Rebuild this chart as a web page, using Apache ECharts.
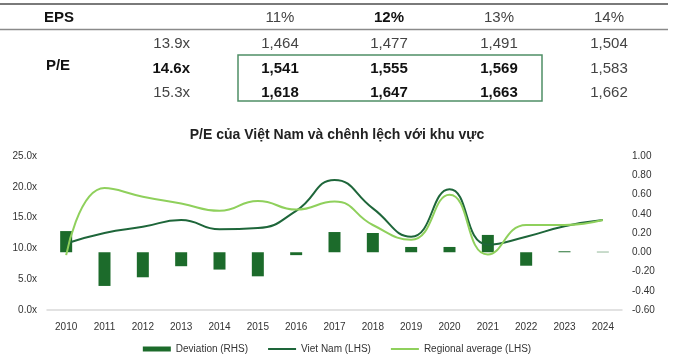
<!DOCTYPE html>
<html>
<head>
<meta charset="utf-8">
<script src="https://cdn.jsdelivr.net/npm/echarts@6/dist/echarts.min.js"></script>
<style>
html,body{margin:0;padding:0;background:#fff;}
#chart{width:674px;height:355px;}
</style>
</head>
<body>
<div id="chart"></div>
<script>
// ---- Table data ----
var epsHeaders = ['11%', '12%', '13%', '14%'];
var epsBold = [false, true, false, false];
var peLabels = ['13.9x', '14.6x', '15.3x'];
var peBold = [false, true, false];
var tableValues = [
  ['1,464', '1,477', '1,491', '1,504'],
  ['1,541', '1,555', '1,569', '1,583'],
  ['1,618', '1,647', '1,663', '1,662']
];
var tableBold = [
  [false, false, false, false],
  [true, true, true, false],
  [true, true, true, false]
];

// ---- Chart data ----
var years = ['2010','2011','2012','2013','2014','2015','2016','2017','2018','2019','2020','2021','2022','2023','2024'];
var vietNam = [10.8, 12.5, 13.5, 14.6, 13.1, 13.3, 16.1, 21.1, 16.5, 11.9, 19.6, 10.6, 11.9, 13.6, 14.6];
var regional = [8.9, 19.8, 18.4, 17.3, 16.1, 17.7, 16.3, 17.6, 13.8, 11.4, 18.7, 9.0, 13.8, 13.8, 14.6];
var deviation = [0.22, -0.35, -0.26, -0.145, -0.18, -0.25, -0.03, 0.21, 0.20, 0.055, 0.055, 0.18, -0.14, 0.01, 0.005];

var FONT = "'Liberation Sans', Arial, sans-serif";
var colX = [280, 389, 499, 609];
var rowY = [44, 69, 93];
var headerY = 18;

var graphics = [];
// table rules
graphics.push({type:'line', shape:{x1:0, y1:4, x2:668, y2:4}, style:{stroke:'#7a7a7a', lineWidth:2}});
graphics.push({type:'line', shape:{x1:0, y1:29.5, x2:668, y2:29.5}, style:{stroke:'#8a8a8a', lineWidth:1.5}});
// header
graphics.push({type:'text', x:59, y:headerY, style:{text:'EPS', font:'bold 15px ' + FONT, fill:'#111', textAlign:'center', textVerticalAlign:'middle'}});
epsHeaders.forEach(function(h, i){
  graphics.push({type:'text', x:colX[i], y:headerY, style:{text:h, font:(epsBold[i]?'bold ':'') + '15px ' + FONT, fill:epsBold[i]?'#111':'#444', textAlign:'center', textVerticalAlign:'middle'}});
});
graphics.push({type:'text', x:58, y:rowY[1] - 3, style:{text:'P/E', font:'bold 15px ' + FONT, fill:'#111', textAlign:'center', textVerticalAlign:'middle'}});
peLabels.forEach(function(p, r){
  graphics.push({type:'text', x:190, y:rowY[r], style:{text:p, font:(peBold[r]?'bold ':'') + '15px ' + FONT, fill:peBold[r]?'#111':'#444', textAlign:'right', textVerticalAlign:'middle'}});
  tableValues[r].forEach(function(v, c){
    var b = tableBold[r][c];
    graphics.push({type:'text', x:colX[c], y:rowY[r], style:{text:v, font:(b?'bold ':'') + '15px ' + FONT, fill:b?'#111':'#444', textAlign:'center', textVerticalAlign:'middle'}});
  });
});
graphics.push({type:'rect', shape:{x:238, y:55, width:304, height:46}, style:{fill:'none', stroke:'#4f8f66', lineWidth:1.5}});

var lineIcon = 'path://M0,0L28,0L28,2L0,2Z';

var chart = echarts.init(document.getElementById('chart'));
chart.setOption({
  backgroundColor: '#fff',
  animation: false,
  textStyle: {fontFamily: FONT},
  title: {
    text: 'P/E của Việt Nam và chênh lệch với khu vực',
    left: 'center', top: 123,
    textStyle: {fontSize: 14, fontWeight: 'bold', color: '#222', fontFamily: FONT}
  },
  legend: {
    left: 'center', top: 339,
    itemWidth: 28, itemHeight: 5, itemGap: 20,
    textStyle: {fontSize: 10, color: '#333', fontFamily: FONT},
    data: [
      {name: 'Deviation (RHS)', icon: 'rect'},
      {name: 'Viet Nam (LHS)', icon: lineIcon},
      {name: 'Regional average (LHS)', icon: lineIcon}
    ]
  },
  grid: {left: 47, right: 52, top: 156, bottom: 45},
  xAxis: {
    type: 'category', data: years,
    axisLine: {lineStyle: {color: '#d9d9d9', width: 1.5}},
    axisTick: {show: false},
    axisLabel: {fontSize: 10, color: '#333', margin: 12, fontFamily: FONT}
  },
  yAxis: [
    {
      type: 'value', min: 0, max: 25, interval: 5,
      axisLine: {show: false}, axisTick: {show: false}, splitLine: {show: false},
      axisLabel: {fontSize: 10, color: '#333', margin: 10, fontFamily: FONT,
        formatter: function(v){ return v.toFixed(1) + 'x'; }}
    },
    {
      type: 'value', min: -0.6, max: 1.0, interval: 0.2,
      axisLine: {show: false}, axisTick: {show: false}, splitLine: {show: false},
      axisLabel: {fontSize: 10, color: '#333', margin: 10, fontFamily: FONT,
        formatter: function(v){ return v.toFixed(2); }}
    }
  ],
  series: [
    {
      name: 'Deviation (RHS)', type: 'bar', yAxisIndex: 1, data: deviation,
      barWidth: 12, itemStyle: {color: '#1c6b2b'}
    },
    {
      name: 'Viet Nam (LHS)', type: 'line', yAxisIndex: 0, data: vietNam,
      smooth: 0.5, symbol: 'none', lineStyle: {color: '#1e663a', width: 2}, itemStyle: {color: '#1e663a'}
    },
    {
      name: 'Regional average (LHS)', type: 'line', yAxisIndex: 0, data: regional,
      smooth: 0.5, symbol: 'none', lineStyle: {color: '#8fd05c', width: 2}, itemStyle: {color: '#8fd05c'}
    }
  ],
  graphic: graphics
});
</script>
</body>
</html>
